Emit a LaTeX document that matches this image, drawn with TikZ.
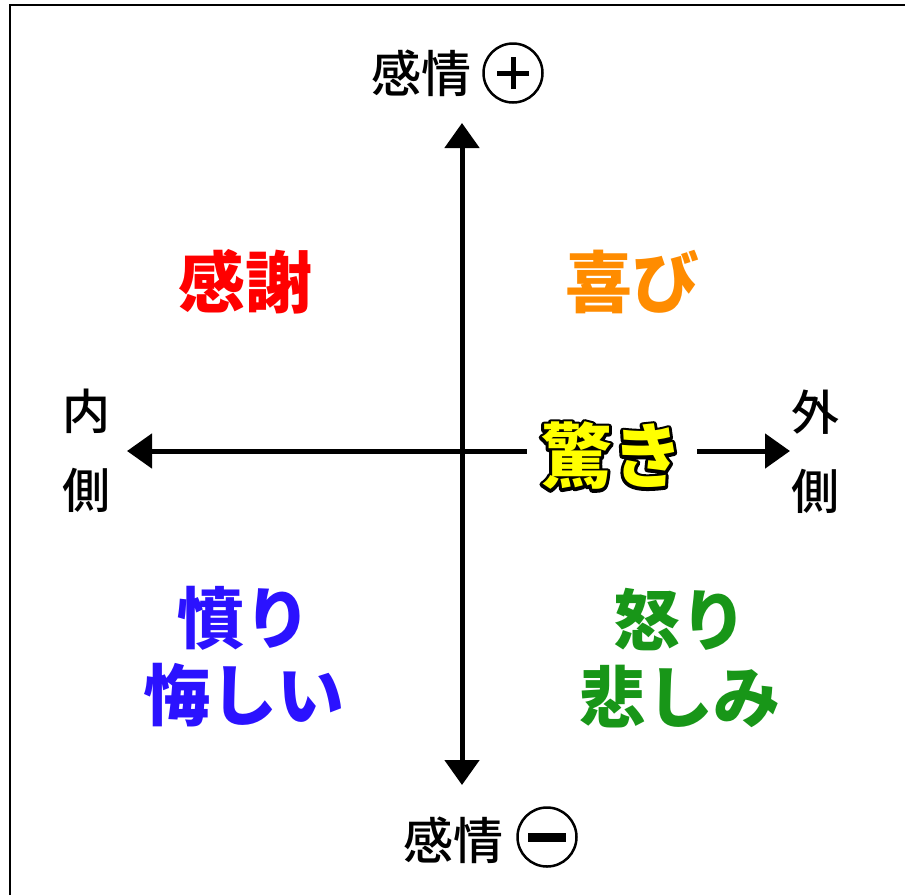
\documentclass[tikz,border=0pt]{standalone}
\usepackage{fontspec}
\setmainfont{Noto Sans CJK JP}
\newfontfamily\jpmed{Noto Sans CJK JP Medium}
\usetikzlibrary{arrows.meta}
\definecolor{cred}{RGB}{255,0,0}
\definecolor{corange}{RGB}{255,140,0}
\definecolor{cyellow}{RGB}{255,255,0}
\definecolor{cblue}{RGB}{43,18,255}
\definecolor{cgreen}{RGB}{24,150,24}
\newcommand{\stroked}[1]{\special{pdf:literal 0 0 0 RG 6 w 1 j 2 Tr}#1\special{pdf:literal 0 Tr}}
\begin{document}
\begin{tikzpicture}[x=1pt,y=-1pt,
  axisline/.style={line width=5pt},
  tip/.style={-{Triangle[length=25pt,width=34pt]}},
  lbl/.style={font=\jpmed\fontsize{50}{79}\selectfont, inner sep=0pt, align=center},
  big/.style={font=\fontsize{67}{77}\selectfont\bfseries, inner sep=0pt, align=center},
  surptxt/.style={font=\fontsize{71}{71}\selectfont\bfseries, inner sep=0pt},
  signbox/.style={circle, draw, line width=2.5pt, minimum size=59pt, inner sep=0pt}]
\useasboundingbox (0,0) rectangle (905,895);
\fill[white] (0,0) rectangle (905,895);
\draw[line width=2.5pt] (10,895) -- (10,5) -- (905,5);
% axes
\coordinate (up) at (462,123);
\coordinate (down) at (462,785);
\coordinate (lt) at (127,451);
\coordinate (rt) at (790,451);
\node[surptxt, text=black, inner xsep=14pt] (surp) at (612,456) {\stroked{驚き}};
\node[surptxt, text=cyellow] (surpf) at (surp.center) {驚き};
\draw[axisline, {Triangle[length=25pt,width=34pt]}-{Triangle[length=25pt,width=34pt]}] (down) -- (up);
\draw[axisline, tip] (surp.west |- lt) -- (lt);
\draw[axisline, tip] (surp.east |- rt) -- (rt);
% top / bottom labels
\node[lbl] (emoup) at (421,73) {感情};
\node[signbox, path picture={
  \draw[line width=5pt] ([xshift=-16pt]path picture bounding box.center) -- ([xshift=16pt]path picture bounding box.center);
  \draw[line width=5pt] ([yshift=-16pt]path picture bounding box.center) -- ([yshift=16pt]path picture bounding box.center);}] (plus) at (513,73) {};
\node[lbl] (emodown) at (453,840) {感情};
\node[signbox, path picture={
  \draw[line width=9pt] ([xshift=-19pt]path picture bounding box.center) -- ([xshift=19pt]path picture bounding box.center);}] (minus) at (547,837) {};
% side labels
\node[lbl, font=\jpmed\fontsize{48}{79}\selectfont] (inside) at (86,451) {内\\側};
\node[lbl, font=\jpmed\fontsize{48}{79}\selectfont] (outside) at (815,452) {外\\側};
% quadrant words
\node[big, text=cred] (thanks) at (245,282) {感謝};
\node[big, text=corange] (joy) at (632,282) {喜び};
\node[big, text=cblue] (resent) at (244,657) {憤り\\悔しい};
\node[big, text=cgreen] (anger) at (680,658) {怒り\\悲しみ};
\end{tikzpicture}
\end{document}
